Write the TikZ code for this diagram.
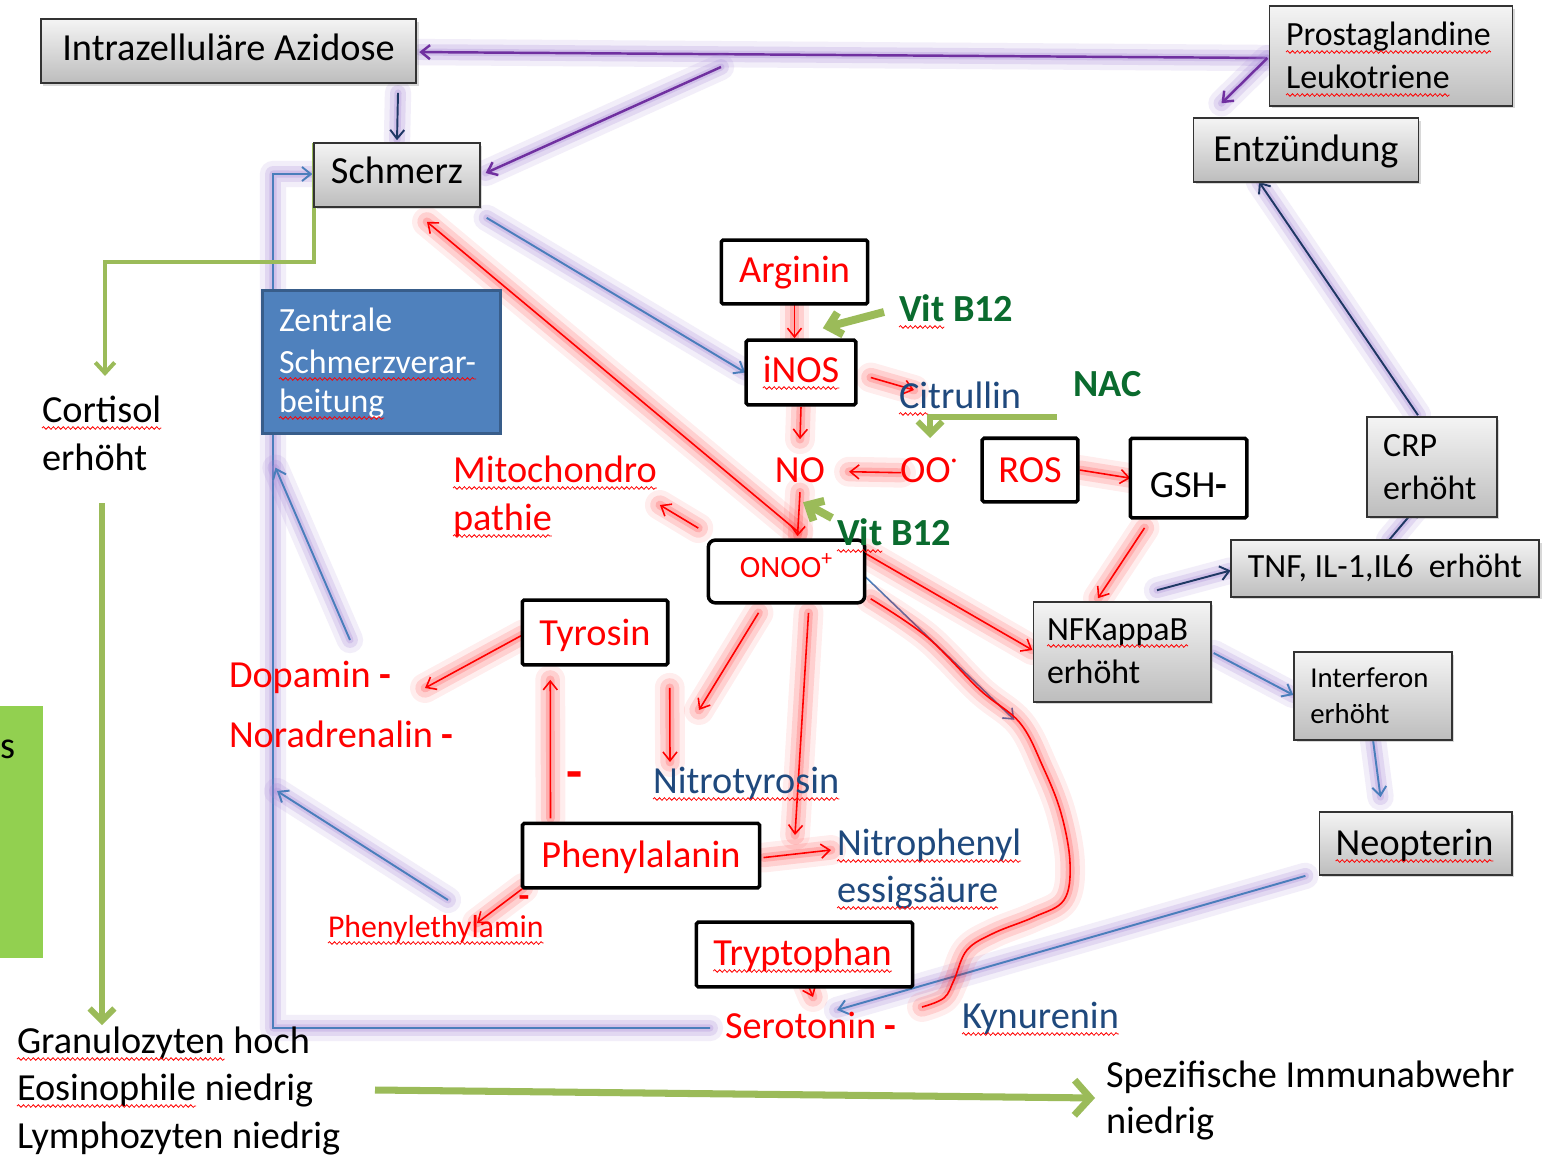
\documentclass[tikz,border=0pt]{standalone}
\usepackage{fontspec}
\setmainfont{Carlito}
\usetikzlibrary{arrows.meta,calc,shadows,backgrounds,decorations.pathmorphing}
\definecolor{navyt}{HTML}{1F497D}
\definecolor{dgreen}{HTML}{0A6B2E}
\definecolor{lgreen}{HTML}{9BBB59}
\definecolor{boxgreen}{HTML}{92D050}
\definecolor{bfill}{HTML}{4F81BD}
\definecolor{bdraw}{HTML}{385D8A}
\definecolor{bline}{HTML}{4A7EBB}
\definecolor{navyl}{HTML}{1F3864}
\definecolor{purp}{HTML}{7030A0}
\definecolor{lav}{RGB}{165,135,215}
\definecolor{gtop}{HTML}{F4F4F4}
\definecolor{gbot}{HTML}{BDBDBD}
\newcommand\fsA{\fontsize{21.8pt}{27.2pt}\selectfont}
\newcommand\fsB{\fontsize{19.3pt}{24.4pt}\selectfont}
\newcommand\fsC{\fontsize{17.6pt}{20pt}\selectfont}
\newcommand\fsD{\fontsize{18.1pt}{22pt}\selectfont}
\newcommand\fsE{\fontsize{16.4pt}{20.4pt}\selectfont}
\newcommand\wvline[1]{\draw[wave] ($(#1.base west)+(0,6)$) -- ($(#1.base east)+(0,6)$);}
\tikzset{
  every node/.style={inner sep=0pt, outer sep=0pt},
  txt/.style={anchor=base west, font=\fsA},
  gbox/.style={draw=black!80, line width=1pt, top color=gtop, bottom color=gbot,
    drop shadow={opacity=0.3, shadow xshift=1.5pt, shadow yshift=-1.5pt}, font=\fsA, text=black},
  wbox/.style={draw=black, line width=2pt, fill=white, font=\fsA, text=red, rounded corners=1pt},
  boxdim/.style n args={3}{minimum width=#1, text height=#2, text depth=#3, anchor=base},
  wave/.style={draw=red, line width=0.45pt, decorate, decoration={snake, amplitude=0.75pt, segment length=2.8pt}},
  rglow/.style={preaction={draw=red, draw opacity=.07, line width=17pt, arrows=-, line cap=round, line join=round},
                preaction={draw=red, draw opacity=.12, line width=11pt, arrows=-, line cap=round, line join=round},
                preaction={draw=red, draw opacity=.16, line width=5pt, arrows=-, line cap=round, line join=round}},
  pglow/.style={preaction={draw=lav, draw opacity=.14, line width=15pt, arrows=-, line cap=round, line join=round},
                preaction={draw=lav, draw opacity=.22, line width=9pt, arrows=-, line cap=round, line join=round},
                preaction={draw=lav, draw opacity=.28, line width=4pt, arrows=-, line cap=round, line join=round}},
  redl/.style={draw=red, line width=0.9pt, rglow},
  bluel/.style={draw=bline, line width=1.1pt, pglow},
  navl/.style={draw=navyl, line width=1.1pt, pglow},
  purl/.style={draw=purp, line width=1.4pt, pglow},
  grn/.style={draw=lgreen},
}
\begin{document}
\begin{tikzpicture}[x=0.02cm, y=-0.02cm, >={Straight Barb[length=5pt,width=8pt]}]
\useasboundingbox (0,0) rectangle (1557,1155);

% ---------- boxes ----------
\node[gbox, boxdim={213.7pt}{23.8pt}{12.5pt}] (azid) at (228.5,61) {Intrazelluläre Azidose};
\node[gbox, boxdim={94.1pt}{23.2pt}{13pt}] (schm) at (397,184) {Schmerz};
\node[gbox, boxdim={128.1pt}{24.9pt}{11.3pt}] (entz) at (1306,162) {Entzündung};
\node[gbox, minimum width=138.4pt, minimum height=56.7pt] (prost) at (1391,56) {};
\node[txt, font=\fsB] (prost1) at (1286,46) {Prostaglandine};
\node[txt, font=\fsB] (prost2) at (1286,89) {Leukotriene};
\node[draw=bdraw, line width=1.5pt, fill=bfill, minimum width=135.5pt, minimum height=81.6pt, drop shadow={opacity=.25, shadow xshift=1pt, shadow yshift=-1pt}] (zent) at (381.5,362) {};
\node[txt, font=\fsB, text=white] (zent1) at (279,331) {Zentrale};
\node[txt, font=\fsB, text=white] (zent2) at (279,373) {Schmerzverar-};
\node[txt, font=\fsB, text=white] (zent3) at (279,412) {beitung};
\node[wbox, boxdim={83.3pt}{24.4pt}{11.9pt}] (argi) at (794.5,283) {Arginin};
\node[wbox, boxdim={62.4pt}{23.8pt}{13pt}] (inos) at (801,382) {};
\node[anchor=base, font=\fsA, text=red] (inost) at (801,382) {iNOS};
\node[wbox, font=\fsC, rounded corners=4pt, boxdim={89pt}{21pt}{14.7pt}] (onoo) at (786.5,577) {ONOO\textsuperscript{+}};
\node[wbox, boxdim={54.4pt}{24.9pt}{11.3pt}] (ros) at (1030,482) {ROS};
\node[wbox, text=black, boxdim={66.3pt}{33.4pt}{11.9pt}] (gsh) at (1188.5,497) {GSH\textbf{-}};
\node[wbox, boxdim={82.8pt}{25.5pt}{11.3pt}] (tyro) at (595,645) {Tyrosin};
\node[wbox, boxdim={134.9pt}{24.9pt}{11.9pt}] (phen) at (641,867) {Phenylalanin};
\node[wbox, boxdim={123pt}{24.4pt}{12.5pt}] (tryp) at (804.5,965) {};
\node[anchor=base, font=\fsA, text=red] (trypt) at (802.5,965) {Tryptophan};
\node[gbox, minimum width=100.9pt, minimum height=56.7pt] (nfkb) at (1122,652) {};
\node[txt, font=\fsB] (nfkb1) at (1047,640) {NFKappaB};
\node[txt, font=\fsB] (nfkb2) at (1047,683) {erhöht};
\node[gbox, font=\fsB, boxdim={175.7pt}{21pt}{11.3pt}] (tnf) at (1385,577) {TNF, IL-1,IL6 \ erhöht};
\node[gbox, font=\fsB, align=left, text width=55.6pt, inner xsep=9.1pt, minimum height=56.7pt] (crp) at (1432,467) {CRP\\erhöht};
\node[gbox, font=\fsE, align=left, text width=71.4pt, inner xsep=9.1pt, minimum height=49.9pt] (intf) at (1373,696) {Interferon\\erhöht};
\node[gbox, boxdim={109.4pt}{24.4pt}{11.3pt}] (neop) at (1415.5,855) {};
\node[anchor=base, font=\fsA] (neopt) at (1414.5,855) {Neopterin};

% ---------- free texts ----------
\node[txt] (cort1) at (42,422) {Cortisol};
\node[txt] (cort2) at (42,470) {erhöht};
\node[txt, text=red] (mito1) at (453,482) {Mitochondro};
\node[txt, text=red] (mito2) at (453,530) {pathie};
\node[txt, text=red] (dop) at (229,687) {Dopamin \textbf{-}};
\node[txt, text=red] (nor) at (229,747) {Noradrenalin \textbf{-}};
\node[txt, text=navyt] (citr) at (899,408) {Ci};
\node[txt, text=navyt] (citr2) at (citr.base east) {trullin};
\node[txt, text=dgreen, font=\fsA\bfseries] (nac) at (1073,396) {NAC};
\node[txt, text=dgreen, font=\fsA\bfseries] (vb1) at (899,321) {Vit};
\node[txt, text=dgreen, font=\fsA\bfseries] (vb1b) at (vb1.base east) {\ B12};
\node[anchor=base, font=\fsA, text=red] (no) at (800,482) {NO};
\node[txt, text=red] (oo) at (900,482) {OO\textsuperscript{·}};
\node[txt, text=dgreen, font=\fsA\bfseries] (vb2) at (837,545) {Vit};
\node[txt, text=dgreen, font=\fsA\bfseries] (vb2b) at (vb2.base east) {\ B12};
\node[txt, text=navyt] (ntyr) at (653,793) {Nitrotyrosin};
\node[txt, text=navyt] (np1) at (837,855) {Nitrophenyl};
\node[txt, text=navyt] (np2) at (837,902) {essigsäure};
\node[txt, text=red, font=\fsD] (phea) at (328,937) {Phenylethylamin};
\node[txt, text=red] (sero) at (725,1038) {Serotonin \textbf{-}};
\node[txt, text=navyt] (kyn) at (962,1028) {Kynurenin};
\node[txt] (gran) at (17,1053) {Granulozyten};
\node[txt] (granb) at (gran.base east) {\ hoch};
\node[txt] (eos) at (17,1100) {Eosinophile};
\node[txt] (eosb) at (eos.base east) {\ niedrig};
\node[txt] (lym) at (17,1148) {Lymphozyten niedrig};
\node[txt] (spez1) at (1106,1087) {Spezifische Immunabwehr};
\node[txt] (spez2) at (1106,1133) {niedrig};
\node[anchor=center, text=red, font=\fontsize{30pt}{30pt}\selectfont\bfseries] (m1) at (575,781) {-};
\node[anchor=center, text=red, font=\fontsize{20pt}{20pt}\selectfont\bfseries] (m2) at (524,902) {-};
\node[txt] (sgreen) at (0,758) {s};

% ---------- spelling waves ----------
\foreach \w in {prost1,prost2,zent2,zent3,nfkb1,inost,trypt,neopt,cort1,mito1,mito2,citr,vb1,vb2,ntyr,np1,np2,phea,kyn,gran,eos}{\wvline{\w}}

% ---------- connectors ----------
\begin{pgfonlayer}{background}
\fill[white] (0,0) rectangle (1557,1155);
\fill[boxgreen] (0,706) rectangle (43,958);

% purple / navy / blue
\draw[purl,->] ($(prost.west)+(-2,2)$) -- ($(azid.east)+(3,1)$);
\draw[purl,->] ($(prost.west)+(-2,2)$) -- ($(entz.north west)+(28,-15)$);
\coordinate (pbr) at (721,67);
\draw[purl,->] (pbr) -- ($(schm.east)+(6,-2)$);
\draw[navl,->] ($(azid.south -| schm.north)+(1,10)$) -- ($(schm.north)+(0,-3)$);
\draw[bluel,->] ($(schm.south east)+(7,11)$) -- ($(inos.west)+(-1,0)$);
\coordinate (blbot) at (273,1028);
\coordinate (bltop) at (273,174);
\draw[bluel,->] ($(sero.base west)+(-15,-10)$) -- (blbot) -- (bltop) -- ($(schm.west)+(-2,-1)$);
\draw[bluel,->] ($(dop.base west)+(121,-47)$) -- ($(zent.south west)+(13,34)$);
\draw[bluel,->] ($(phea.base west)+(120,-37)$) -- ($(blbot)+(4,-237)$);
\draw[bluel,->] ($(neop.south west)+(-14,1)$) -- ($(sero.base west)+(112,-28)$);
\draw[draw=bline, line width=0.9pt, ->] ($(onoo.east)+(-7,-2)$) -- ($(nfkb.south west)+(-19,18)$);
\draw[navl,->] ($(nfkb.north)+(35,-12)$) -- ($(tnf.west)+(0,2)$);
\draw[navl,->] ($(tnf.north)+(4,0)$) -- ($(crp.south)+(-14,-11)$);
\draw[navl,->] ($(crp.north)+(-14,-2)$) -- ($(entz.south)+(-47,0)$);
\draw[bluel,->] ($(nfkb.east)+(3,1)$) -- ($(intf.west)+(-1,-1)$);
\draw[bluel,->] (intf.south) -- ($(neop.north)+(-35,-15)$);

% red
\draw[redl,->] (argi.south) -- ($(argi.south |- inos.north)+(0,-2)$);
\draw[redl,->] ($(inos.east)+(15,5)$) -- ($(citr.base west)+(15,-18)$);
\draw[redl,->] ($(inos.south)+(0,2)$) -- ($(no.north)+(0,-18)$);
\draw[redl,->] ($(oo.west)+(1,3)$) -- ($(no.east)+(24,2)$);
\draw[redl,->] ($(no.south)+(0,10)$) -- ($(onoo.north)+(11,-4)$);
\draw[redl,->] ($(onoo.north)+(12,-8)$) -- ($(schm.south)+(30,15)$);
\draw[redl,->] ($(onoo.north west)+(-10,-12)$) -- ($(mito1.base east)+(3,23)$);
\draw[redl,->] ($(ros.east)+(2,0)$) -- (gsh.west);
\draw[redl,->] ($(gsh.south)+(-44,10)$) -- ($(nfkb.north)+(-24,-4)$);
\draw[redl,->] ($(onoo.north east)+(0,13)$) -- ($(nfkb.west)+(-1,-2)$);
\draw[redl,->] ($(onoo.south)+(-28,10)$) -- ($(ntyr.base west)+(46,-83)$);
\draw[redl,->] ($(tyro.south east)+(2,23)$) -- ($(ntyr.base west)+(17,-31)$);
\draw[redl,->] ($(onoo.south)+(22,10)$) -- ($(np1.base west)+(-42,-20)$);
\draw[redl,->] ($(phen.east)+(4,2)$) -- ($(np1.base west)+(-6,-5)$);
\draw[redl,->] ($(phen.north west)+(28,-5)$) -- ($(tyro.south west)+(28,15)$);
\draw[redl,->] ($(tyro.west)+(1,2)$) -- ($(dop.base west)+(196,1)$);
\draw[redl,->] ($(phen.south west)+(1,0)$) -- ($(phea.base west)+(149,-14)$);
\draw[redl,->] ($(tryp.south)+(3,-3)$) -- ($(sero.base west)+(88,-41)$);
\coordinate (cs) at ($(onoo.south east)+(6,-4)$);
\coordinate (ce) at ($(kyn.base west)+(-40,-21)$);
\draw[redl] plot[smooth, tension=0.6] coordinates {(cs) (927,637) (980,690) (1020,723) (1043,767) (1061,813) (1070,863) (1064,900) (1034,917) (994,933) (967,950) (954,980) (944,998) (ce)};

% green
\draw[grn, line width=2.3pt, -{Straight Barb[length=6pt,width=11pt]}] (schm.north west) |- ($(cort1.base west)+(63,-160)$) -- ($(cort1.base west)+(63,-46)$);
\draw[grn, line width=3.4pt, -{Straight Barb[length=7pt,width=14pt]}] ($(cort2.base west)+(60,33)$) -- ($(gran.base west)+(85,-28)$);
\draw[grn, line width=4pt, -{Straight Barb[length=9pt,width=20pt]}] ($(eos.base west)+(358,-10)$) -- ($(spez1.base west)!0.5!(spez2.base west)+(-11,-12)$);
\draw[grn, line width=4.5pt, -{Straight Barb[length=7pt,width=13pt]}] ($(vb1.base west)+(-15,-9)$) -- ($(inos.north east)+(-33,-12)$);
\draw[grn, line width=4.5pt, -{Straight Barb[length=7pt,width=13pt]}] ($(vb2.base west)+(-5,-27)$) -- ($(no.south)+(3,20)$);
\draw[grn, line width=3.4pt, -{Straight Barb[length=7pt,width=14pt]}] ($(nac.base west)+(-16,21)$) -| ($(oo.base west)+(30,-44)$);
\end{pgfonlayer}
\end{tikzpicture}
\end{document}
